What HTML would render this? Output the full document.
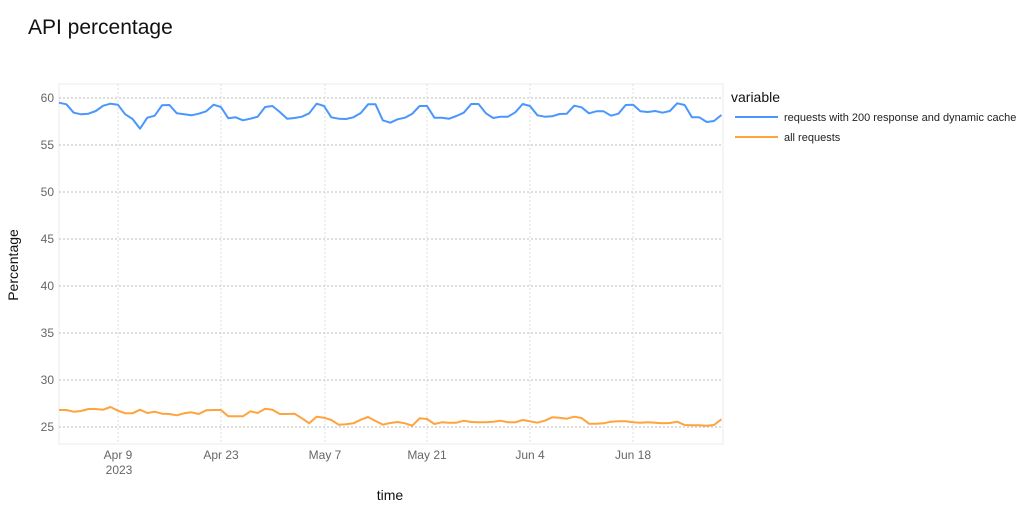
<!DOCTYPE html>
<html><head><meta charset="utf-8"><style>
body{margin:0;background:#fff;font-family:"Liberation Sans",sans-serif;}
</style></head><body>
<svg id="s" width="1024" height="521" xmlns="http://www.w3.org/2000/svg" font-family="Liberation Sans, sans-serif">
<text x="28" y="34" font-size="21" fill="#111">API percentage</text>
<rect x="59" y="84" width="664" height="360" fill="none" stroke="#ebebeb"/>
<g id="grid"></g>
<g id="lines"></g>
<text x="18" y="265" font-size="14" fill="#111" transform="rotate(-90 18 265)" text-anchor="middle">Percentage</text>
<text x="390" y="500" font-size="14" fill="#111" text-anchor="middle">time</text>
<text x="119" y="474" font-size="12" fill="#666" text-anchor="middle">2023</text>
<text x="731" y="102" font-size="14" fill="#111">variable</text>
<line x1="735" y1="117" x2="778" y2="117" stroke="#4a96ff" stroke-width="2"/>
<text x="784" y="121" font-size="11" fill="#222">requests with 200 response and dynamic cache</text>
<line x1="735" y1="137" x2="778" y2="137" stroke="#ffa33d" stroke-width="2"/>
<text x="784" y="141" font-size="11" fill="#222">all requests</text>
</svg>
<script>
var NS="http://www.w3.org/2000/svg",g=document.getElementById('grid'),L=document.getElementById('lines');
function el(p,t,a,txt){var e=document.createElementNS(NS,t);for(var k in a)e.setAttribute(k,a[k]);if(txt)e.textContent=txt;p.appendChild(e);}
for(var v=25;v<=60;v+=5){var y=427-(v-25)*9.4;el(g,'line',{x1:59,x2:723,y1:y,y2:y,stroke:'#bbb','stroke-dasharray':'2,2'});el(g,'text',{x:54,y:y+4,'font-size':12,fill:'#666','text-anchor':'end'},''+v);}
var d=[["Apr 9",118],["Apr 23",221],["May 7",325],["May 21",427],["Jun 4",530],["Jun 18",633]];
d.forEach(function(t){el(g,'line',{x1:t[1],x2:t[1],y1:84,y2:444,stroke:'#ddd','stroke-dasharray':'2,2'});el(g,'text',{x:t[1],y:459,'font-size':12,fill:'#666','text-anchor':'middle'},t[0]);});
var b=[98,103,128,133,131,123,107,101,104,133,147,176,143,137,106,105,130,133,136,131,124,104,111,145,142,151,146,140,111,108,126,146,144,140,130,101,108,142,146,147,142,129,103,103,151,158,148,143,131,108,108,143,143,146,138,128,102,102,130,144,140,140,127,102,108,136,140,139,132,131,107,112,130,124,124,137,131,105,104,124,126,123,128,123,100,105,142,142,156,153,135];
var o=[120,120,125,123,117,117,119,111,122,130,130,119,129,125,131,132,136,130,127,132,121,120,120,139,139,139,124,129,116,119,132,132,131,145,160,140,143,150,164,163,160,149,141,153,164,159,156,160,167,145,147,162,157,158,158,152,156,157,157,155,152,157,157,150,154,158,152,142,143,146,140,144,161,161,160,155,154,154,157,158,157,158,160,159,155,165,166,166,167,165,148];
function path(a,off,c){var s='';a.forEach(function(z,i){s+=(i?'L':'M')+(59+7.36*i).toFixed(1)+','+(off+z/3).toFixed(1);});el(L,'path',{d:s,fill:'none',stroke:c,'stroke-width':2,'stroke-linejoin':'round'});}
path(b,70,'#4a96ff');path(o,370,'#ffa33d');
</script>
</body></html>
